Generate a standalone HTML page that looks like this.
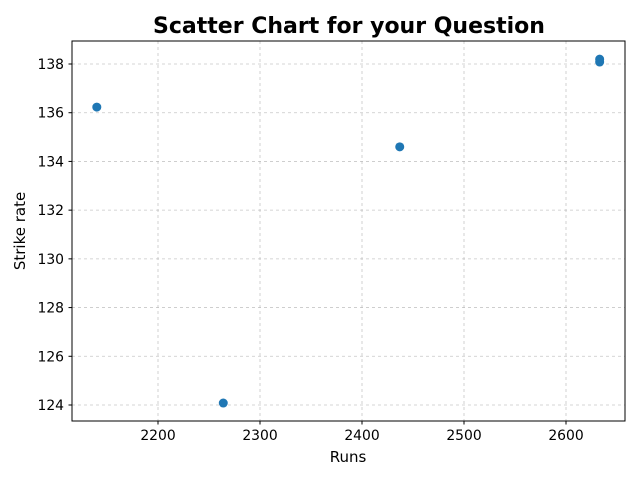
<!DOCTYPE html>
<html><head><meta charset="utf-8"><style>
body{margin:0;background:#fff;}
svg{display:block;font-family:"DejaVu Sans","Liberation Sans",sans-serif;}
</style></head><body>
<svg id="chart" width="640" height="480">
<text x="349" y="33" text-anchor="middle" font-size="22" font-weight="bold">Scatter Chart for your Question</text>
<g id="grid"></g>
<rect x="72" y="41" width="553" height="380" fill="none" stroke="#000" stroke-width="1"/>
<g id="xticks"></g><g id="yticks"></g><g id="points"></g>
<text x="348" y="462" text-anchor="middle" font-size="15">Runs</text>
<text transform="translate(25,231) rotate(-90)" text-anchor="middle" font-size="15">Strike rate</text>
</svg>
<script>
const runs=[2140,2264,2437,2633,2633];
const strikeRates=[136.23,124.08,134.6,138.2,138.08];
const xTicks=[2200,2300,2400,2500,2600];
const yTicks=[124,126,128,130,132,134,136,138];
const NS="http://www.w3.org/2000/svg";
function X(v){return 158+(v-2200)*1.02;}
function Y(v){return 405-(v-124)*(341/14);}
function mk(t,a,p){const e=document.createElementNS(NS,t);for(const k in a)e.setAttribute(k,a[k]);p.appendChild(e);return e;}
const g=document.getElementById('grid'),xt=document.getElementById('xticks'),yt=document.getElementById('yticks'),pt=document.getElementById('points');
xTicks.forEach(v=>{const x=X(v);
const l=mk('line',{x1:x,x2:x,y1:41,y2:421,stroke:'#b0b0b0','stroke-width':0.8,'stroke-dasharray':'3,3',opacity:0.7},g);


mk('line',{x1:x,x2:x,y1:421,y2:424.5,stroke:'#000'},xt);
const t=mk('text',{x:x,y:440,'text-anchor':'middle','font-size':13.9},xt);t.textContent=v;

});
yTicks.forEach(v=>{const y=Y(v);
const l=mk('line',{x1:72,x2:625,y1:y,y2:y,stroke:'#b0b0b0','stroke-width':0.8,'stroke-dasharray':'3,3',opacity:0.7},g);


mk('line',{x1:68.5,x2:72,y1:y,y2:y,stroke:'#000'},yt);
const t=mk('text',{x:64,y:y+5,'text-anchor':'end','font-size':13.9},yt);t.textContent=v;

});
runs.forEach((r,i)=>{const c=mk('circle',{cx:X(r),cy:Y(strikeRates[i]),r:4.5,fill:'#1f77b4'},pt);

});
</script>
</body></html>
